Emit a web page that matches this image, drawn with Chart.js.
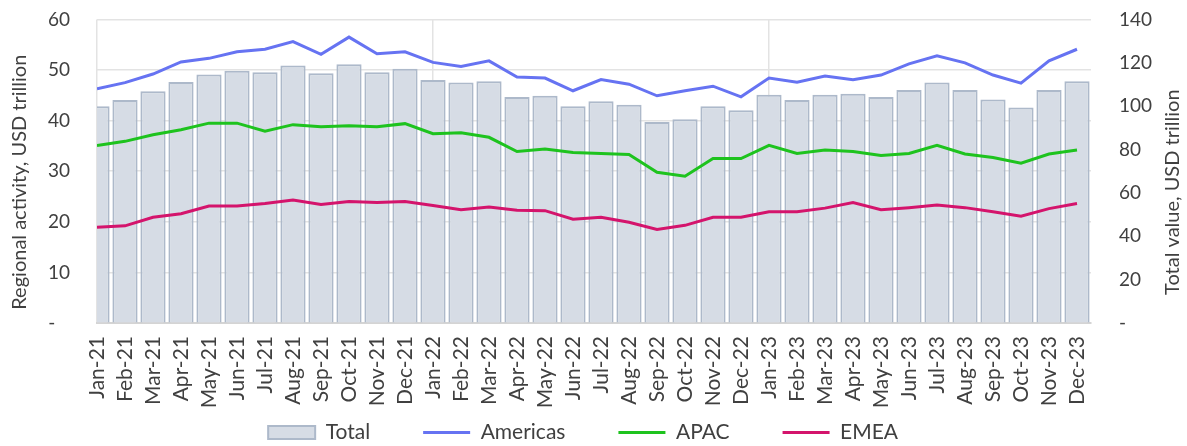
<!DOCTYPE html>
<html>
<head>
<meta charset="utf-8">
<script src="https://cdn.jsdelivr.net/npm/chart.js@4/dist/chart.umd.min.js"></script>
<style>
  html, body { margin: 0; padding: 0; background: #fff; }
</style>
</head>
<body>
<canvas id="chart" width="1187" height="446"></canvas>
<script>
// Monthly data, Jan-21 .. Dec-23
const months = ['Jan-21', 'Feb-21', 'Mar-21', 'Apr-21', 'May-21', 'Jun-21', 'Jul-21', 'Aug-21', 'Sep-21', 'Oct-21', 'Nov-21', 'Dec-21',
                'Jan-22', 'Feb-22', 'Mar-22', 'Apr-22', 'May-22', 'Jun-22', 'Jul-22', 'Aug-22', 'Sep-22', 'Oct-22', 'Nov-22', 'Dec-22',
                'Jan-23', 'Feb-23', 'Mar-23', 'Apr-23', 'May-23', 'Jun-23', 'Jul-23', 'Aug-23', 'Sep-23', 'Oct-23', 'Nov-23', 'Dec-23'];

// right axis (bars)
const total = [100.0, 102.8, 106.9, 111.1, 114.6, 116.3, 115.6, 118.7, 115.2, 119.3, 115.6, 117.2,
               112.0, 110.9, 111.5, 104.2, 104.8, 100.0, 102.2, 100.6, 92.7, 93.9, 100.0, 98.1,
               105.2, 102.8, 105.2, 105.7, 104.2, 107.4, 110.9, 107.4, 103.1, 99.4, 107.4, 111.5];

// left axis (lines)
const americas = [46.3, 47.5, 49.2, 51.6, 52.3, 53.6, 54.1, 55.6, 53.1, 56.5, 53.2, 53.6,
                  51.5, 50.7, 51.8, 48.6, 48.4, 45.9, 48.1, 47.2, 44.9, 45.9, 46.8, 44.7,
                  48.4, 47.6, 48.8, 48.1, 49.0, 51.2, 52.8, 51.4, 49.0, 47.4, 51.8, 54.1];
const apac = [35.1, 35.9, 37.2, 38.2, 39.5, 39.5, 37.9, 39.2, 38.8, 39.0, 38.8, 39.4,
              37.4, 37.6, 36.7, 33.9, 34.4, 33.7, 33.5, 33.3, 29.8, 29.0, 32.5, 32.5,
              35.1, 33.5, 34.2, 33.9, 33.1, 33.5, 35.1, 33.4, 32.7, 31.6, 33.4, 34.2];
const emea = [18.9, 19.2, 20.9, 21.6, 23.1, 23.1, 23.6, 24.3, 23.4, 24.0, 23.8, 24.0,
              23.2, 22.4, 22.9, 22.3, 22.2, 20.5, 20.9, 19.9, 18.5, 19.3, 20.9, 20.9,
              22.0, 22.0, 22.7, 23.8, 22.4, 22.8, 23.3, 22.8, 22.0, 21.1, 22.6, 23.6];

const leftAxis = { min: 0, max: 60, step: 10 };
const rightAxis = { min: 0, max: 140, step: 20 };
const leftTitle = 'Regional activity, USD trillion';
const rightTitle = 'Total value, USD trillion';

const textColor = '#404040';
Chart.defaults.font.family = 'Lato';
Chart.defaults.color = textColor;

// index -> {x, y} so the linear x scale can place them
const toPoints = arr => arr.map((v, i) => ({ x: i, y: v }));

// axis titles read bottom-to-top on both sides
const axisTitles = {
    id: 'axisTitles',
    afterDraw(chart) {
        const { ctx, chartArea } = chart;
        const midY = (chartArea.top + chartArea.bottom) / 2;
        ctx.save();
        ctx.font = '20px Lato';
        ctx.fillStyle = textColor;
        ctx.textAlign = 'center';
        ctx.textBaseline = 'middle';

        ctx.save();
        ctx.translate(20, midY + 11);
        ctx.rotate(-Math.PI / 2);
        ctx.fillText(leftTitle, 0, 0);
        ctx.restore();

        ctx.save();
        ctx.translate(1173, midY + 21);
        ctx.rotate(-Math.PI / 2);
        ctx.fillText(rightTitle, 0, 0);
        ctx.restore();

        ctx.restore();
    }
};

const lineDs = (label, data, color) => ({
    type: 'line',
    label: label,
    data: toPoints(data),
    yAxisID: 'y',
    borderColor: color,
    backgroundColor: color,
    borderWidth: 3,
    pointRadius: 0,
    tension: 0,
    order: 0
});

// legend gaps: padding also sets the row height, so the spacing between items is made with trailing spaces
const legendGap = ['\u00a0'.repeat(8), '\u00a0'.repeat(8), '\u00a0'.repeat(8), '\u00a0'.repeat(4)];

new Chart(document.getElementById('chart'), {
    type: 'bar',
    data: {
        datasets: [
            {
                label: 'Total',
                data: toPoints(total),
                yAxisID: 'y1',
                backgroundColor: '#d6dce5',
                borderColor: '#adb9ca',
                borderWidth: 2,
                barPercentage: 0.9,
                categoryPercentage: 1.0,
                clip: 0,
                order: 1
            },
            lineDs('Americas', americas, '#6673f2'),
            lineDs('APAC', apac, '#1ec31e'),
            lineDs('EMEA', emea, '#d4146c')
        ]
    },
    options: {
        responsive: false,
        animation: false,
        layout: { padding: { top: 0, bottom: -7 } },
        plugins: {
            tooltip: { enabled: false },
            legend: {
                position: 'bottom',
                labels: {
                    font: { size: 21 },
                    color: textColor,
                    padding: 10,
                    usePointStyle: true,
                    pointStyleWidth: 47,
                    boxHeight: 13,
                    sort: (a, b) => a.datasetIndex - b.datasetIndex,
                    generateLabels(chart) {
                        const items = Chart.defaults.plugins.legend.labels.generateLabels(chart);
                        return items.map(it => {
                            it.pointStyle = it.datasetIndex === 0 ? 'rect' : 'line';
                            it.text = it.text + legendGap[it.datasetIndex];
                            return it;
                        });
                    }
                }
            }
        },
        scales: {
            x: {
                type: 'linear',
                min: 0,
                max: 35.5,
                offset: false,
                afterFit(scale) { scale.height = 89; },
                border: { display: true, color: '#d4d4d4', width: 2 },
                grid: {
                    offset: false,
                    drawTicks: false,
                    color: c => (c.tick && c.tick.value % 12 === 0) ? '#e3e3e3' : 'rgba(0,0,0,0)',
                    lineWidth: 1.5
                },
                ticks: {
                    stepSize: 1,
                    autoSkip: false,
                    includeBounds: false,
                    maxTicksLimit: 100,
                    minRotation: 90,
                    maxRotation: 90,
                    padding: 13,
                    font: { size: 21 },
                    callback: v => months[v] ?? ''
                }
            },
            y: {
                position: 'left',
                min: leftAxis.min,
                max: leftAxis.max,
                afterFit(scale) { scale.width = 97; },
                border: { display: false },
                // tick marks are invisible; their length keeps the labels away from the plot
                grid: { drawTicks: true, tickLength: 19, tickColor: 'rgba(0,0,0,0)', color: '#e3e3e3', lineWidth: 1.5 },
                ticks: {
                    stepSize: leftAxis.step,
                    padding: 8,
                    font: { size: 19 },
                    callback: v => v === 0 ? '-   ' : v
                }
            },
            y1: {
                position: 'right',
                min: rightAxis.min,
                max: rightAxis.max,
                afterFit(scale) { scale.width = 96; },
                border: { display: false },
                grid: { drawOnChartArea: false, drawTicks: true, tickLength: 20, tickColor: 'rgba(0,0,0,0)' },
                ticks: {
                    stepSize: rightAxis.step,
                    padding: 8,
                    font: { size: 19 },
                    callback: v => v === 0 ? '-' : v
                }
            }
        }
    },
    plugins: [axisTitles]
});
</script>
</body>
</html>
